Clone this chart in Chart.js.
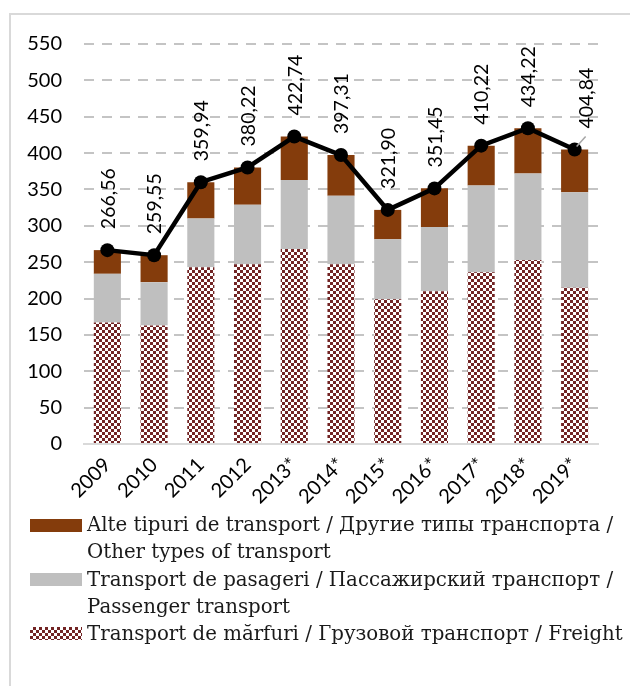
<!DOCTYPE html>
<html>
<head>
<meta charset="utf-8">
<script src="https://cdn.jsdelivr.net/npm/chart.js@4.4.1/dist/chart.umd.min.js"></script>
<style>
  html, body { margin: 0; padding: 0; background: #fff; }
  #wrap { width: 630px; height: 686px; position: relative; }
  .fl { font-family: Lato; position: absolute; left: -999px; top: 0; }
  .fs { font-family: "DejaVu Serif"; position: absolute; left: -999px; top: 0; }
</style>
</head>
<body>
<span class="fl">0123456789,*</span><span class="fs">Transport Грузовой</span>
<div id="wrap"><canvas id="c" width="630" height="686"></canvas></div>
<script>
const categories = ['2009', '2010', '2011', '2012', '2013*', '2014*', '2015*', '2016*', '2017*', '2018*', '2019*'];
const freight   = [167, 163, 243, 247, 268, 247, 199, 210, 236, 253, 215];
const passenger = [67, 59.5, 67, 82, 95, 94.5, 82.5, 88.5, 119.5, 119, 131];
const other     = [32.6, 37.1, 49.9, 51.2, 59.7, 55.8, 40.4, 53.0, 54.7, 62.2, 58.8];
const totals    = [266.56, 259.55, 359.94, 380.22, 422.74, 397.31, 321.90, 351.45, 410.22, 434.22, 404.84];
const yTicks    = [0, 50, 100, 150, 200, 250, 300, 350, 400, 450, 500, 550];

const legendLines = [
  { box: 'other', text: 'Alte tipuri de transport / Другие типы транспорта /' },
  { box: null,    text: 'Other types of transport' },
  { box: 'passenger', text: 'Transport de pasageri / Пассажирский транспорт /' },
  { box: null,    text: 'Passenger transport' },
  { box: 'freight', text: 'Transport de mărfuri / Грузовой транспорт / Freight' }
];

const SANS = 'Lato, "Open Sans", sans-serif';
const COLOR_OTHER = '#843C0C';
const COLOR_PASS = '#BFBFBF';
const COLOR_FREIGHT = '#722424';

function makePattern() {
  const pc = document.createElement('canvas');
  pc.width = 6; pc.height = 6;
  const p = pc.getContext('2d');
  p.fillStyle = '#ffffff';
  p.fillRect(0, 0, 6, 6);
  p.fillStyle = COLOR_FREIGHT;
  p.fillRect(0, 0, 3, 3);
  p.fillRect(3, 3, 3, 3);
  return document.getElementById('c').getContext('2d').createPattern(pc, 'repeat');
}

const fmt = v => v.toFixed(2).replace('.', ',');

function build() {
  const freightPattern = makePattern();

  const framePlugin = {
    id: 'frame',
    beforeDraw(chart) {
      const ctx = chart.ctx;
      ctx.save();
      ctx.strokeStyle = '#d9d9d9';
      ctx.lineWidth = 2;
      ctx.beginPath();
      ctx.moveTo(10, 690);
      ctx.lineTo(10, 14);
      ctx.lineTo(632, 14);
      ctx.stroke();
      ctx.restore();
    }
  };

  const labelPlugin = {
    id: 'totLabels',
    afterDatasetsDraw(chart) {
      const ctx = chart.ctx;
      const meta = chart.getDatasetMeta(3);
      ctx.save();
      ctx.font = '19.5px ' + SANS;
      ctx.fillStyle = '#000';
      meta.data.forEach((pt, i) => {
        const x = pt.x, y = pt.y;
        let dx = 0;
        if (i === totals.length - 1) {
          dx = 11;
          ctx.strokeStyle = '#a6a6a6';
          ctx.lineWidth = 1.5;
          ctx.beginPath();
          ctx.moveTo(x + 2, y - 3);
          ctx.lineTo(x + 11, y - 13);
          ctx.stroke();
        }
        ctx.save();
        ctx.translate(x + dx, y - 21);
        ctx.rotate(-Math.PI / 2);
        ctx.textAlign = 'left';
        ctx.textBaseline = 'middle';
        ctx.fillText(fmt(totals[i]), 0, 1);
        ctx.restore();
      });
      ctx.restore();
    }
  };

  const legendPlugin = {
    id: 'customLegend',
    afterDraw(chart) {
      const ctx = chart.ctx;
      ctx.save();
      let size = 20;
      ctx.font = size + 'px "DejaVu Serif"';
      const w = ctx.measureText(legendLines[4].text).width;
      size = size * 536 / w;
      ctx.font = size.toFixed(2) + 'px "DejaVu Serif"';
      ctx.textBaseline = 'middle';
      ctx.textAlign = 'left';
      const startY = 525, step = 27.2;
      legendLines.forEach((ln, i) => {
        const y = startY + i * step;
        if (ln.box) {
          ctx.fillStyle = ln.box === 'other' ? COLOR_OTHER : ln.box === 'passenger' ? COLOR_PASS : freightPattern;
          ctx.fillRect(30, Math.round(y - 6.5), 52, 13);
        }
        ctx.fillStyle = '#1a1a1a';
        ctx.fillText(ln.text, 87, y + 1);
      });
      ctx.restore();
    }
  };

  const barCommon = { type: 'bar', stack: 's', order: 1, categoryPercentage: 1, barPercentage: 0.58 };

  new Chart(document.getElementById('c'), {
    data: {
      labels: categories,
      datasets: [
        Object.assign({ label: 'Freight', data: freight, backgroundColor: freightPattern }, barCommon),
        Object.assign({ label: 'Passenger', data: passenger, backgroundColor: COLOR_PASS }, barCommon),
        Object.assign({ label: 'Other', data: other, backgroundColor: COLOR_OTHER }, barCommon),
        { type: 'line', label: 'Total', data: totals, stack: 'total', order: 0,
          borderColor: '#000', backgroundColor: '#000', borderWidth: 4.5,
          pointRadius: 7, pointHoverRadius: 7, pointBackgroundColor: '#000', pointBorderWidth: 0,
          tension: 0, fill: false }
      ]
    },
    options: {
      responsive: false,
      animation: false,
      events: [],
      layout: { padding: { left: 0, right: 32, top: 44, bottom: 0 } },
      plugins: { legend: { display: false }, tooltip: { enabled: false } },
      scales: {
        x: {
          stacked: true,
          grid: { display: false, drawTicks: false },
          border: { display: true, color: '#d9d9d9', width: 2 },
          ticks: { font: { family: SANS, size: 20 }, color: '#000', minRotation: 45, maxRotation: 45,
                   autoSkip: false, padding: 9 },
          afterFit(s) { s.height = 242; }
        },
        y: {
          stacked: true,
          min: 0, max: 550,
          afterBuildTicks(s) { s.ticks = yTicks.map(v => ({ value: v })); },
          grid: {
            drawTicks: false,
            color: ctx => (ctx.tick && ctx.tick.value === 0) ? 'rgba(0,0,0,0)' : '#c4c4c4',
            lineWidth: 2
          },
          border: { display: false, dash: [10, 8] },
          ticks: { font: { family: SANS, size: 20 }, color: '#000', padding: 22 },
          afterFit(s) { s.width = 84; }
        }
      }
    },
    plugins: [framePlugin, labelPlugin, legendPlugin]
  });
}

Promise.all([
  document.fonts.load('20px Lato'),
  document.fonts.load('20px "DejaVu Serif"')
]).then(build, build);
</script>
</body>
</html>
